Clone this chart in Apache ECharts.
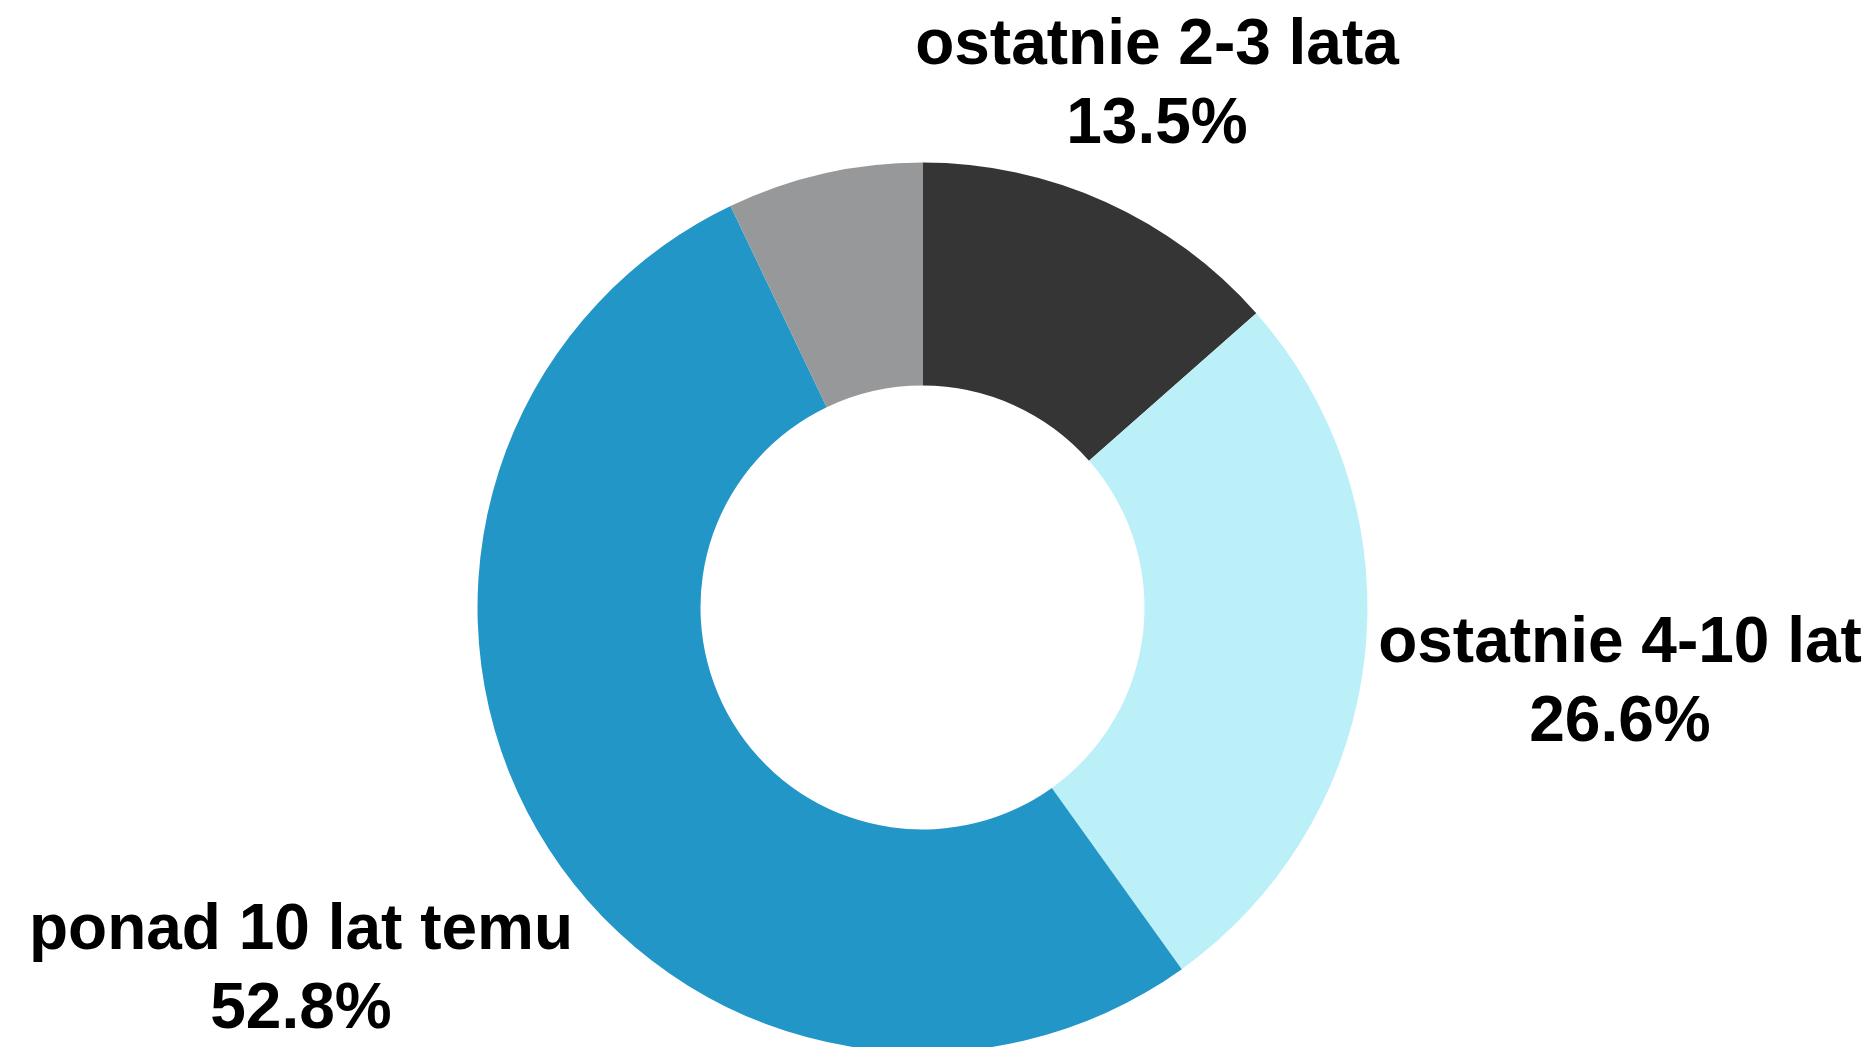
<!DOCTYPE html>
<html>
<head>
<meta charset="utf-8">
<script src="https://cdn.jsdelivr.net/npm/echarts@6/dist/echarts.min.js"></script>
<style>
  html, body { margin: 0; padding: 0; background: #fff; }
  #chart { width: 1875px; height: 1047px; }
</style>
</head>
<body>
<div id="chart"></div>
<script>
// dane wykresu
const categories = ['ostatnie 2-3 lata', 'ostatnie 4-10 lat', 'ponad 10 lat temu', 'pozostałe']
const shares = [13.5, 26.6, 52.8, 7.1]
const showLabel = [true, true, true, false]

const colors = ['#353535', '#bcf0f9', '#2396c8', '#97989a']
// pozycje etykiet (px)
const labelXY = [[1157, 86], [1620, 684], [301, 971]]

const chart = echarts.init(document.getElementById('chart'), null, {renderer: 'canvas'})

let options = {
    animation: false,
    series: [{
        type: 'pie',
        center: [922.5, 607.5],
        radius: [222, 445],
        startAngle: 90,
        clockwise: true,
        avoidLabelOverlap: false,
        emphasis: {disabled: true},
        itemStyle: {borderWidth: 0},
        label: {
            show: true,
            position: 'outside',
            formatter: (p) => p.name + '\n' + p.value.toFixed(1) + '%',
            fontFamily: 'Liberation Sans',
            fontWeight: 'bold',
            fontSize: 64,
            lineHeight: 79,
            color: '#000',
            align: 'center'
        },
        labelLine: {show: false},
        labelLayout: (params) => {
            const pos = labelXY[params.dataIndex]
            if (!pos) return {}
            return {x: pos[0], y: pos[1], align: 'center', verticalAlign: 'middle'}
        },
        data: categories.map((name, i) => ({
            name: name,
            value: shares[i],
            itemStyle: {color: colors[i]},
            label: {show: showLabel[i]}
        }))
    }]
}

chart.setOption(options)
</script>
</body>
</html>
